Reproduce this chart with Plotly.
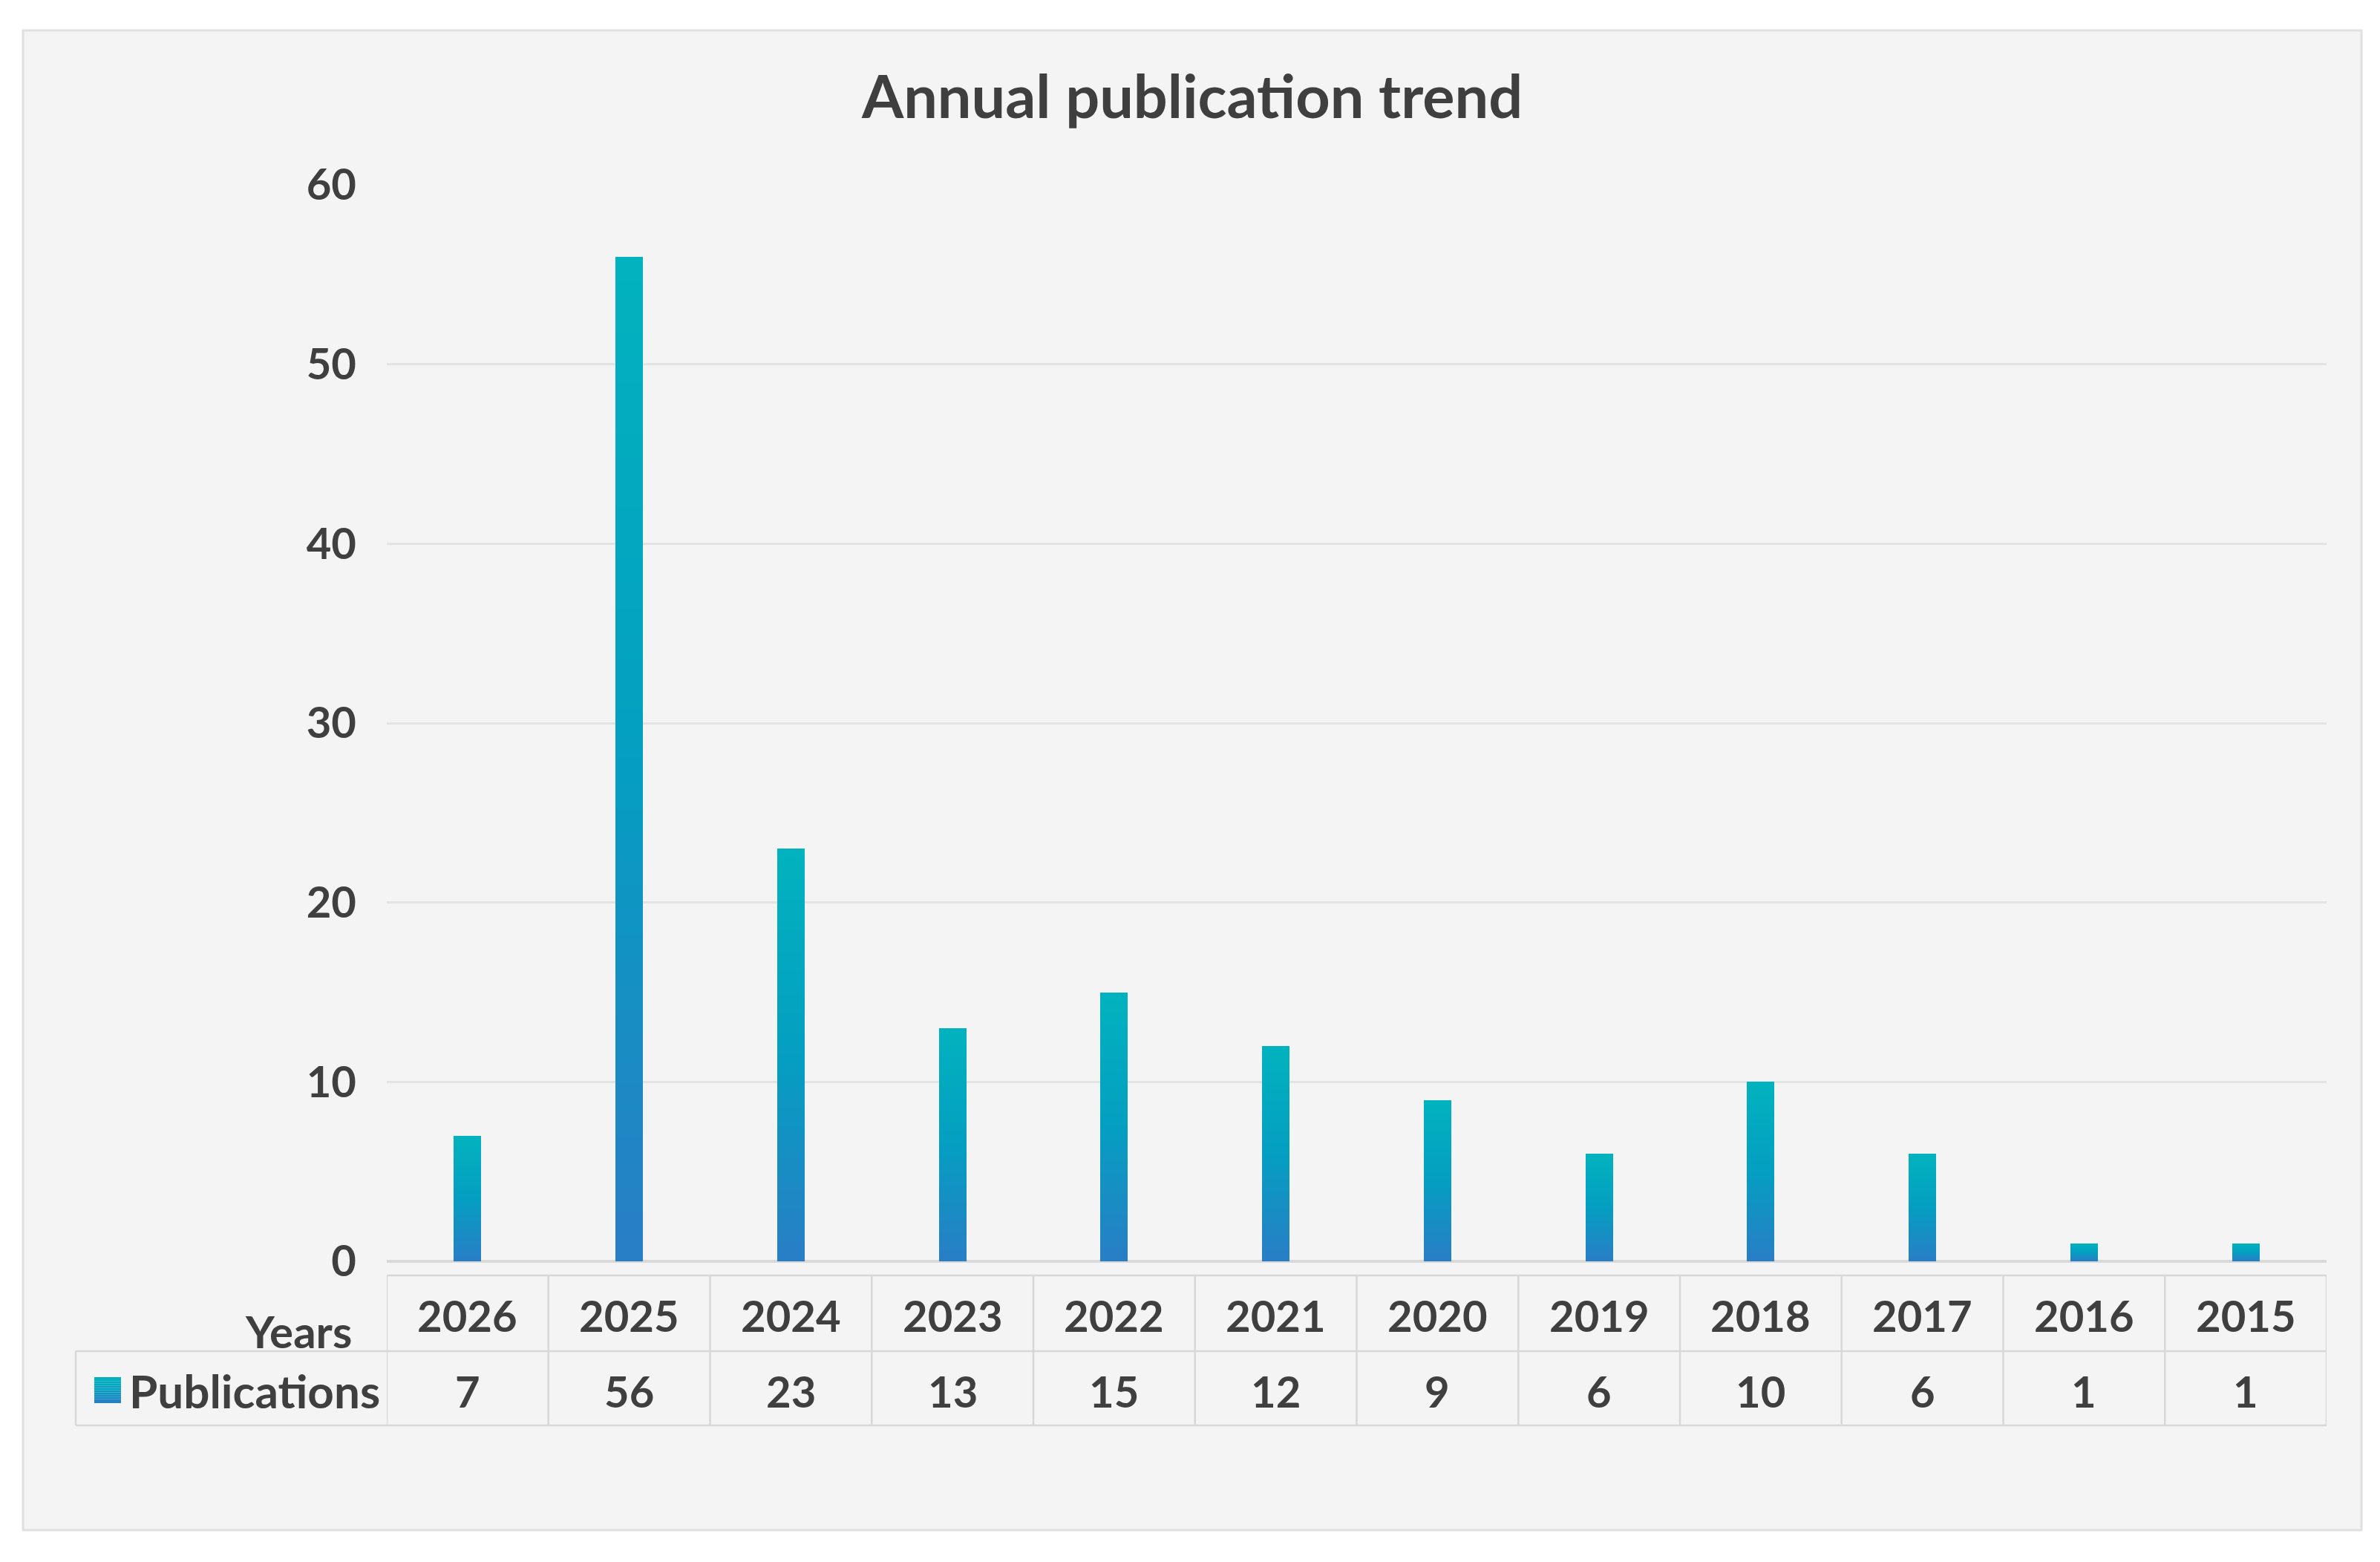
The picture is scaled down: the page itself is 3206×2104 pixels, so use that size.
import plotly.graph_objects as go

# ---- data ----
years = ["2026", "2025", "2024", "2023", "2022", "2021", "2020", "2019", "2018", "2017", "2016", "2015"]
publications = [7, 56, 23, 13, 15, 12, 9, 6, 10, 6, 1, 1]
series_name = "Publications"
axis_name = "Years"
title_text = "Annual publication trend"
y_ticks = [0, 10, 20, 30, 40, 50, 60]

# ---- layout geometry (pixels in the 3206x2104 page) ----
W, H = 3206, 2104
X0, X1 = 521, 3134      # plot area left/right
YB, YT = 1699, 249      # plot area bottom (y=0) / top (y=60)

def px(x):
    return (x - X0) / (X1 - X0)

def py(y):
    return (YB - y) / (YB - YT)

FONT = "Lato"
TXT = "#3f3f3f"
GRID = "#e3e3e3"
TLINE = "#d8d8d8"

def lerp(c1, c2, t):
    return "#%02x%02x%02x" % tuple(int(round(a + (b - a) * t)) for a, b in zip(c1, c2))

top_c = (2, 179, 190)
mid_c = (4, 158, 193)
bot_c = (42, 126, 198)

def grad(t):  # t=0 bottom, 1 top
    if t < 0.5:
        return lerp(bot_c, mid_c, t / 0.5)
    return lerp(mid_c, top_c, (t - 0.5) / 0.5)

fig = go.Figure()

# gradient bars: overlay progressively shorter bars of each value
N = 40
for k in range(N, 0, -1):
    frac = k / N
    fig.add_trace(go.Bar(
        x=list(range(len(years))),
        y=[v * frac for v in publications],
        width=0.17,
        marker=dict(color=grad(frac - 0.5 / N), line=dict(width=0)),
        hoverinfo="skip" if k != N else None,
        name=series_name,
        showlegend=False,
    ))

shapes = []
# outer panel
shapes.append(dict(type="rect", xref="paper", yref="paper", layer="below",
                   x0=px(31), x1=px(3181), y0=py(41), y1=py(2061),
                   fillcolor="#f4f4f4", line=dict(color="#e0e0e0", width=3)))

# data table lines
t_top, t_mid, t_bot = 1718, 1820, 1920
for yy, xl in [(t_top, X0), (t_mid, 102), (t_bot, 102)]:
    shapes.append(dict(type="line", xref="paper", yref="paper", x0=px(xl), x1=px(X1),
                       y0=py(yy), y1=py(yy), line=dict(color=TLINE, width=2.5)))
for i in range(len(years) + 1):
    shapes.append(dict(type="line", xref="x", yref="paper", x0=i - 0.5, x1=i - 0.5,
                       y0=py(t_top), y1=py(t_bot), line=dict(color=TLINE, width=2.5)))
shapes.append(dict(type="line", xref="paper", yref="paper", x0=px(102), x1=px(102),
                   y0=py(t_mid), y1=py(t_bot), line=dict(color=TLINE, width=2.5)))

# legend key square with gradient
ks_x0, ks_x1, ks_y0, ks_y1 = 127, 163, 1855, 1890
M = 12
for j in range(M):
    ya = ks_y1 - (ks_y1 - ks_y0) * j / M
    yb = ks_y1 - (ks_y1 - ks_y0) * (j + 1) / M
    shapes.append(dict(type="rect", xref="paper", yref="paper",
                       x0=px(ks_x0), x1=px(ks_x1), y0=py(ya), y1=py(yb),
                       fillcolor=grad((j + 0.5) / M), line=dict(width=0)))

annotations = []
tfont = dict(family=FONT, size=58, color=TXT, weight="bold")
for i, (yr, v) in enumerate(zip(years, publications)):
    annotations.append(dict(x=i, y=py(1771), xref="x", yref="paper", text=yr,
                            showarrow=False, font=tfont, xanchor="center", yanchor="middle"))
    annotations.append(dict(x=i, y=py(1873), xref="x", yref="paper", text=str(v),
                            showarrow=False, font=tfont, xanchor="center", yanchor="middle"))
annotations.append(dict(x=px(476), y=py(1793), xref="paper", yref="paper", text=axis_name,
                        showarrow=False, font=dict(family=FONT, size=60, color=TXT, weight="bold"),
                        xanchor="right", yanchor="middle"))
annotations.append(dict(x=px(172), y=py(1873), xref="paper", yref="paper", text=series_name,
                        showarrow=False, font=dict(family=FONT, size=62, color=TXT, weight="bold"),
                        xanchor="left", yanchor="middle"))
annotations.append(dict(x=px(1605), y=py(127), xref="paper", yref="paper", text=title_text,
                        showarrow=False, font=dict(family=FONT, size=81, color=TXT, weight="bold"),
                        xanchor="center", yanchor="middle"))

fig.update_layout(
    width=W, height=H,
    margin=dict(l=X0, r=W - X1, t=YT, b=H - YB, pad=0),
    paper_bgcolor="white",
    plot_bgcolor="rgba(0,0,0,0)",
    barmode="overlay",
    bargap=0,
    showlegend=False,
    shapes=shapes,
    annotations=annotations,
    xaxis=dict(range=[-0.5, len(years) - 0.5], showticklabels=False, showgrid=False,
               zeroline=False, showline=False, ticks="", fixedrange=True),
    yaxis=dict(range=[0, 60], tickvals=y_ticks, ticktext=[str(t) for t in y_ticks],
               showgrid=True, gridcolor=GRID, gridwidth=2.5,
               zeroline=True, zerolinecolor="#d9d9d9", zerolinewidth=4,
               showline=False, ticks="", ticklabelstandoff=40,
               tickfont=dict(family=FONT, size=58, color=TXT, weight="bold"), fixedrange=True),
)

fig.write_html("out.html")
